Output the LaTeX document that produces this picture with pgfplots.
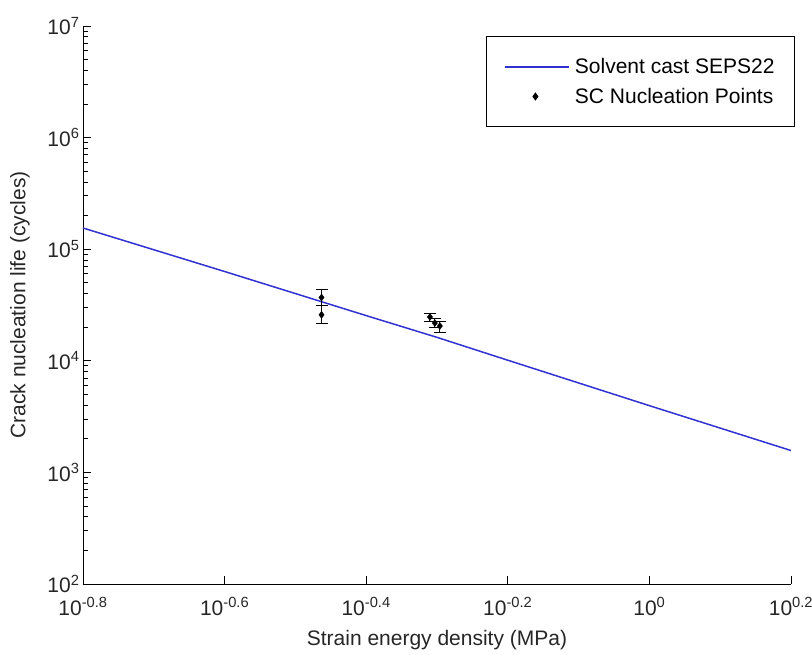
\documentclass[border=0pt]{standalone}
\usepackage{pgfplots}
\pgfplotsset{compat=1.18}
\usepackage{fontspec}
\setmainfont{Liberation Sans}
\definecolor{mblue}{RGB}{50,50,210}
\pgfplotstableread{
x y yp ym
0.3443 36900 6200 5300
0.3443 25800 5200 4000
0.4898 24700 1700 2000
0.4977 21800 2000 2000
0.5058 20500 1800 2700
}\sctable
\begin{document}
\begin{tikzpicture}
\begin{axis}[
  scale only axis, width=708pt, height=558pt,
  xmode=log, ymode=log,
  xmin=0.158489, xmax=1.584893, ymin=1e2, ymax=1e7,
  axis x line*=bottom, axis y line*=left,
  axis line style={line width=0.9pt, -},
  tick style={black, line width=0.9pt},
  tick align=inside,
  major tick length=8pt, minor tick length=5pt,
  xtick={0.158489,0.251189,0.398107,0.630957,1,1.584893},
  xticklabels={10\textsuperscript{-0.8},10\textsuperscript{-0.6},10\textsuperscript{-0.4},10\textsuperscript{-0.2},10\textsuperscript{0},10\textsuperscript{0.2}},
  xminorticks=false,
  ytick={1e2,1e3,1e4,1e5,1e6,1e7},
  yticklabels={10\textsuperscript{2},10\textsuperscript{3},10\textsuperscript{4},10\textsuperscript{5},10\textsuperscript{6},10\textsuperscript{7}},
  tick label style={font=\fontsize{21}{25}\selectfont, black!85},
  xticklabel shift=10pt,
  label style={font=\fontsize{21}{25}\selectfont, black!85},
  xlabel={Strain energy density (MPa)},
  ylabel={Crack nucleation life (cycles)},
  xlabel style={at={(axis description cs:0.5,-0.1)}, anchor=center},
  ylabel style={at={(axis description cs:-0.089,0.5)}, anchor=center},
  legend style={at={(rel axis cs:1.0056,0.982)}, anchor=north east, line width=0.8pt,
    font=\fontsize{21}{25}\selectfont, inner xsep=18pt, inner ysep=20pt, row sep=9pt},
  legend cell align=left,
]
\addplot[mblue, line width=1.5pt, forget plot]
  coordinates {(0.158489,154882) (0.251189,63096) (0.398107,25410) (0.501187,16218) (0.630957,10116) (1,3963) (1.584893,1570)};
\addplot[only marks, mark=diamond*, mark size=3.5pt, black, forget plot,
  error bars/.cd, y dir=both, y explicit,
  error bar style={line width=1pt, black},
  error mark options={rotate=90, line width=1pt, mark size=6pt, black}]
  table[x=x, y=y, y error plus=yp, y error minus=ym]{\sctable};
\addlegendimage{legend image code/.code={\path[draw=none] (0pt,0pt) -- (68pt,0pt); \fill[mblue] (0pt,-0.8pt) rectangle (63pt,0.8pt);}}
\addlegendentry{Solvent cast SEPS22}
\addlegendimage{legend image code/.code={\path[draw=none] (0pt,0pt) -- (68pt,0pt); \fill[black] (30.5pt,3.5pt) -- (33pt,0pt) -- (30.5pt,-3.5pt) -- (28pt,0pt) -- cycle;}}
\addlegendentry{SC Nucleation Points}
\end{axis}
\pgfresetboundingbox
\path (current axis.south west) ++(-83pt,-71pt) coordinate (bbA);
\path (current axis.north east) ++(21pt,26pt) coordinate (bbB);
\path (bbA) rectangle (bbB);
\end{tikzpicture}
\end{document}
